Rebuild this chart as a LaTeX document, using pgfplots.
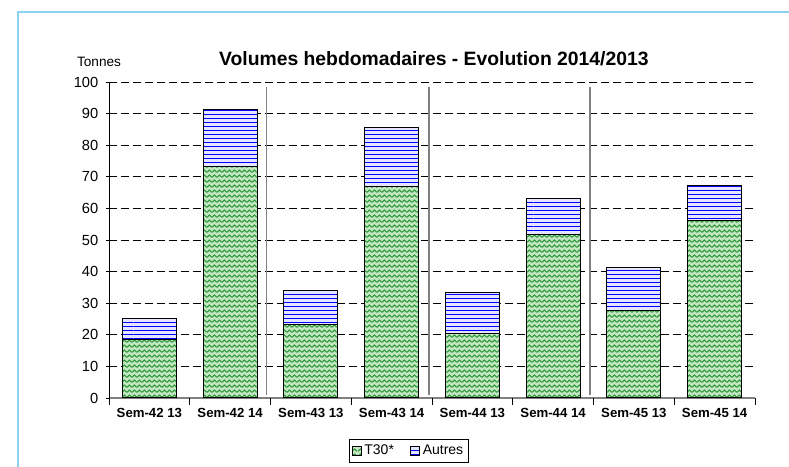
\documentclass[border=0pt]{standalone}
\usepackage{pgfplots}
\pgfplotsset{compat=1.18}
\usepackage{fontspec}
\setmainfont{Liberation Sans}
\usetikzlibrary{patterns}

\pgfdeclarepatternformonly{weave}{\pgfpointorigin}{\pgfpoint{4pt}{4pt}}{\pgfpoint{4pt}{4pt}}{
  \pgfsetlinewidth{0.8pt}
  \pgfpathmoveto{\pgfpoint{0pt}{0.5pt}}\pgfpathlineto{\pgfpoint{2pt}{2.5pt}}\pgfpathlineto{\pgfpoint{4pt}{0.5pt}}
  \pgfusepath{stroke}}

\definecolor{frameblue}{RGB}{140,210,240}
\definecolor{tgreen}{RGB}{195,230,195}
\definecolor{tgreendark}{RGB}{45,150,55}

\begin{document}
\begin{tikzpicture}
\path[use as bounding box] (0,0) rectangle (591.75pt,350.25pt);
\draw[frameblue, line width=1.5pt] (13.5pt,-2pt) -- (13.5pt,341.25pt) -- (600pt,341.25pt);
\begin{axis}[
  at={(81.75pt,51.75pt)}, anchor=south west,
  scale only axis, width=484.5pt, height=237pt,
  ybar stacked, bar width=40.5pt,
  xmin=-0.5, xmax=7.5, ymin=0, ymax=100,
  xtick={0,...,7},
  xticklabels={Sem-42 13,Sem-42 14,Sem-43 13,Sem-43 14,Sem-44 13,Sem-44 14,Sem-45 13,Sem-45 14},
  major x tick style={draw=none},
  extra x ticks={-0.5,0.5,1.5,2.5,3.5,4.5,5.5,6.5,7.5},
  extra x tick labels={},
  extra x tick style={major tick length=5pt, tick align=outside, major x tick style={draw=black, line width=0.6pt}},
  ytick={0,10,...,100},
  extra y ticks={10,20,...,100},
  extra y tick labels={},
  extra y tick style={ymajorgrids=true, major tick length=0pt},
  major grid style={black, line width=0.6pt, dash pattern=on 6pt off 3pt},
  axis x line*=bottom, axis y line*=left,
  x axis line style={gray, line width=1pt},
  y axis line style={black, line width=0.6pt},
  major y tick style={black, line width=0.6pt},
  major tick length=5pt,
  ytick align=center,
  /pgf/number format/assume math mode=true,
  yticklabel style={font=\fontsize{11}{13}\selectfont, xshift=-2pt},
  xticklabel style={font=\bfseries\fontsize{9.9}{12}\selectfont, yshift=-4pt},
  legend columns=2,
  legend style={at={(0.464,-0.168)}, anchor=center, draw=black, line width=0.6pt,
    font=\fontsize{10.5}{12}\selectfont, inner sep=2pt,
    /tikz/every even column/.append style={column sep=10pt}},
  legend image code/.code={\draw[#1, line width=0.6pt] (0pt,-3.5pt) rectangle (7pt,3.5pt);},
]
\addplot[draw=black, line width=0.8pt, fill=tgreen, postaction={pattern=weave, pattern color=tgreendark}]
  coordinates {(0,18.6) (1,73.2) (2,23.4) (3,66.9) (4,20.3) (5,51.7) (6,27.8) (7,56.3)};
\addplot[draw=black, line width=0.8pt, fill=blue!10, postaction={pattern=horizontal lines, pattern color=blue}]
  coordinates {(0,6.6) (1,18.2) (2,10.5) (3,18.6) (4,13.0) (5,11.4) (6,13.6) (7,10.9)};
\legend{T30*,Autres}
\draw[gray, line width=1.2pt] (axis cs:1.45,1) -- (axis cs:1.45,98.3);
\draw[gray, line width=1.2pt] (axis cs:3.46,1) -- (axis cs:3.46,98.3);
\draw[gray, line width=1.2pt] (axis cs:5.46,1) -- (axis cs:5.46,98.3);
\end{axis}
\node[font=\bfseries\fontsize{14.5}{16}\selectfont] at (325.4pt,306pt) {Volumes hebdomadaires - Evolution 2014/2013};
\node[font=\fontsize{10.2}{12}\selectfont] at (74.25pt,303.75pt) {Tonnes};
\end{tikzpicture}
\end{document}
